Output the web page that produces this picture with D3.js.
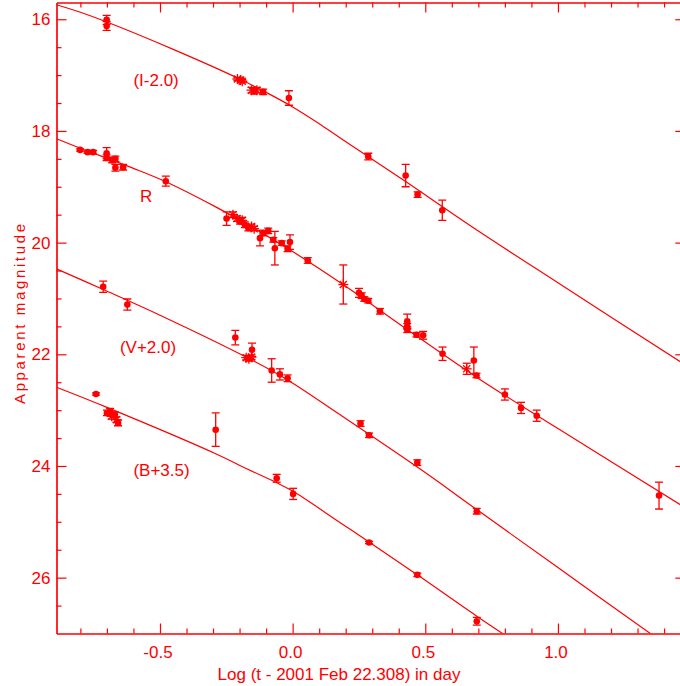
<!DOCTYPE html>
<html><head><meta charset="utf-8">
<script src="https://cdn.jsdelivr.net/npm/d3@7"></script>
<style>
html,body{margin:0;padding:0;background:#fff;}
svg{display:block;}
text{font-family:"Liberation Sans",Arial,sans-serif;fill:#ff0000;}
</style></head>
<body>
<svg id="chart" width="680" height="686"></svg>
<script>
// ---- Data ----
// [log t, magnitude, error, symbol]  symbol: "o" dot, "*" asterisk
const iData = [
  [-0.701,16.01,0.08,"o"],[-0.701,16.12,0.08,"o"],
  [-0.208,17.07,0.03,"*"],[-0.196,17.09,0.03,"*"],[-0.19,17.11,0.03,"*"],
  [-0.155,17.27,0.05,"*"],[-0.145,17.29,0.05,"o"],[-0.135,17.27,0.05,"*"],[-0.111,17.30,0.05,"o"],
  [-0.014,17.41,0.13,"o"],
  [0.285,18.46,0.06,"o"],[0.426,18.80,0.2,"o"],[0.471,19.14,0.05,"o"],[0.564,19.42,0.18,"o"]
];
const rData = [
  [-0.801,18.34,0.02,"o"],[-0.773,18.38,0.02,"o"],[-0.752,18.38,0.03,"o"],
  [-0.701,18.40,0.1,"o"],[-0.701,18.48,0.05,"o"],
  [-0.68,18.52,0.05,"o"],[-0.668,18.50,0.05,"o"],[-0.668,18.66,0.06,"o"],[-0.639,18.65,0.05,"o"],
  [-0.478,18.90,0.09,"o"],
  [-0.249,19.57,0.12,"o"],[-0.225,19.50,0.05,"*"],[-0.21,19.57,0.05,"*"],[-0.198,19.62,0.05,"o"],
  [-0.19,19.60,0.05,"*"],[-0.18,19.68,0.05,"o"],[-0.167,19.74,0.05,"o"],[-0.155,19.71,0.04,"*"],
  [-0.145,19.75,0.04,"*"],[-0.123,19.92,0.14,"o"],[-0.11,19.83,0.05,"o"],[-0.092,19.79,0.05,"o"],
  [-0.073,19.95,0.04,"o"],[-0.067,20.10,0.3,"o"],[-0.041,20.01,0.04,"o"],[-0.019,20.11,0.05,"o"],
  [-0.01,19.99,0.13,"o"],[0.057,20.32,0.05,"o"],
  [0.191,20.75,0.35,"*"],[0.25,20.90,0.08,"o"],[0.26,20.95,0.05,"o"],[0.27,21.01,0.04,"o"],[0.285,21.04,0.04,"o"],
  [0.329,21.23,0.05,"o"],[0.432,21.41,0.13,"o"],[0.432,21.50,0.05,"o"],[0.432,21.56,0.05,"o"],
  [0.467,21.65,0.04,"o"],[0.492,21.66,0.07,"o"],
  [0.565,21.99,0.12,"o"],[0.656,22.26,0.1,"*"],[0.683,22.11,0.24,"o"],[0.693,22.38,0.04,"o"],
  [0.80,22.72,0.1,"o"],[0.861,22.96,0.1,"o"],[0.92,23.10,0.1,"o"],[1.381,24.53,0.24,"o"]
];
const vData = [
  [-0.714,20.79,0.1,"o"],[-0.623,21.11,0.1,"o"],[-0.216,21.70,0.13,"o"],[-0.153,21.92,0.12,"o"],
  [-0.175,22.06,0.04,"*"],[-0.165,22.08,0.04,"*"],[-0.155,22.05,0.04,"*"],
  [-0.079,22.29,0.21,"o"],[-0.048,22.36,0.1,"o"],[-0.019,22.43,0.06,"o"],
  [0.256,23.24,0.05,"o"],[0.288,23.45,0.04,"o"],[0.47,23.94,0.05,"o"],[0.694,24.81,0.05,"o"]
];
const bData = [
  [-0.741,22.71,0.02,"o"],[-0.70,23.05,0.05,"o"],[-0.688,23.02,0.05,"o"],[-0.682,23.11,0.05,"*"],
  [-0.67,23.08,0.05,"o"],[-0.664,23.17,0.05,"*"],[-0.658,23.23,0.05,"o"],
  [-0.29,23.35,0.3,"o"],[-0.06,24.22,0.07,"o"],[0.002,24.50,0.1,"o"],
  [0.288,25.37,0.02,"o"],[0.47,25.95,0.03,"o"],[0.694,26.78,0.07,"o"]
];
// model curves: [log t, magnitude]
const iCurve = [[-0.89,15.74],[-0.8,15.875],[-0.70,16.05],[-0.45,16.54],[-0.20,17.07],[-0.1,17.31],[0.0,17.57],[0.1,17.87],[0.178,18.12],[0.43,18.92],[0.68,19.73],[1.0,20.72],[1.48,22.19]];
const rCurve = [[-0.89,18.14],[-0.8,18.31],[-0.6,18.67],[-0.478,18.91],[-0.29,19.36],[-0.15,19.73],[0.0,20.16],[0.19,20.75],[0.43,21.55],[0.706,22.45],[1.0,23.33],[1.48,24.75]];
const vCurve = [[-0.89,20.47],[-0.714,20.84],[-0.5,21.30],[-0.167,22.07],[-0.019,22.46],[0.178,23.08],[0.47,24.02],[0.694,24.78],[1.0,25.82],[1.36,27.04]];
const bCurve = [[-0.89,22.59],[-0.7,22.95],[-0.29,23.78],[-0.173,24.05],[-0.06,24.30],[0.0,24.45],[0.178,25.01],[0.288,25.36],[0.47,25.95],[0.694,26.69],[0.82,27.09]];

const bandLabels = ["(I-2.0)","R","(V+2.0)","(B+3.5)"];
const bandLabelPos = [[-0.600,17.195],[-0.575,19.27],[-0.651,21.977],[-0.600,24.18]];

const xMajor = [-0.5,0,0.5,1.0];
const xMajorLabels = ["-0.5","0.0","0.5","1.0"];
const xMinor = [-0.8,-0.7,-0.6,-0.4,-0.3,-0.2,-0.1,0.1,0.2,0.3,0.4,0.6,0.7,0.8,0.9,1.1,1.2,1.3,1.4];
const yMajor = [16,18,20,22,24,26];
const yMajorLabels = ["16","18","20","22","24","26"];
const yMinor = [16.5,17,17.5,18.5,19,19.5,20.5,21,21.5,22.5,23,23.5,24.5,25,25.5,26.5];

const xTitle = "Log (t - 2001 Feb 22.308) in day";
const yTitle = "Apparent magnitude";

// ---- Drawing ----
const RED = "#ff0000";
const svg = d3.select("#chart");
const x = d3.scaleLinear().domain([-0.89,1.48]).range([56.5,685.3]);
const y = d3.scaleLinear().domain([15.7,27]).range([2.5,633.5]);
const [x0,x1] = x.range(), [y0,y1] = y.range();

svg.append("clipPath").attr("id","clip").append("rect")
  .attr("x",x0).attr("y",y0).attr("width",x1-x0).attr("height",y1-y0);

function styleAxis(g){
  g.attr("color",RED);
  g.selectAll("path,line").attr("stroke-width",1.2);
  g.selectAll("text").attr("font-size",17).attr("font-family","'Liberation Sans',Arial,sans-serif").attr("fill",RED);
}
// bottom
svg.append("g").attr("transform",`translate(0,${y1})`)
  .call(d3.axisBottom(x).tickValues(xMajor).tickFormat((d,i)=>xMajorLabels[i]).tickSizeInner(-10).tickSizeOuter(0).tickPadding(12))
  .call(styleAxis).call(g=>g.selectAll("text").attr("dx",-2.5));
svg.append("g").attr("transform",`translate(0,${y1})`)
  .call(d3.axisBottom(x).tickValues(xMinor).tickFormat("").tickSizeInner(-5).tickSizeOuter(0))
  .call(styleAxis);
// top
svg.append("g").attr("transform",`translate(0,${y0})`)
  .call(d3.axisTop(x).tickValues(xMajor).tickFormat("").tickSizeInner(-10).tickSizeOuter(0))
  .call(styleAxis);
svg.append("g").attr("transform",`translate(0,${y0})`)
  .call(d3.axisTop(x).tickValues(xMinor).tickFormat("").tickSizeInner(-5).tickSizeOuter(0))
  .call(styleAxis);
// left
svg.append("g").attr("transform",`translate(${x0},0)`)
  .call(d3.axisLeft(y).tickValues(yMajor).tickFormat((d,i)=>yMajorLabels[i]).tickSizeInner(-10).tickSizeOuter(0).tickPadding(6))
  .call(styleAxis);
svg.append("g").attr("transform",`translate(${x0},0)`)
  .call(d3.axisLeft(y).tickValues(yMinor).tickFormat("").tickSizeInner(-5).tickSizeOuter(0))
  .call(styleAxis);
// right
svg.append("g").attr("transform",`translate(${x1},0)`)
  .call(d3.axisRight(y).tickValues(yMajor).tickFormat("").tickSizeInner(-10).tickSizeOuter(0))
  .call(styleAxis);
svg.append("g").attr("transform",`translate(${x1},0)`)
  .call(d3.axisRight(y).tickValues(yMinor).tickFormat("").tickSizeInner(-5).tickSizeOuter(0))
  .call(styleAxis);

// titles
svg.append("text").attr("x",339).attr("y",680).attr("text-anchor","middle")
  .attr("font-size",17).text(xTitle);
svg.append("text").attr("transform","translate(25,404) rotate(-90)")
  .attr("text-anchor","start").attr("font-size",15)
  .attr("font-family","'Liberation Serif','Times New Roman',serif")
  .attr("textLength",180).attr("lengthAdjust","spacing").text(yTitle);

const plot = svg.append("g").attr("clip-path","url(#clip)");

// curves
const line = d3.line().x(d=>x(d[0])).y(d=>y(d[1])).curve(d3.curveCatmullRom.alpha(0.5));
[iCurve,rCurve,vCurve,bCurve].forEach(c=>{
  plot.append("path").attr("d",line(c)).attr("fill","none").attr("stroke",RED).attr("stroke-width",1.2);
});

// points
function drawPoints(data){
  const g = plot.append("g");
  data.forEach(d=>{
    const cx = x(d[0]), cy = y(d[1]), ylo = y(d[1]-d[2]), yhi = y(d[1]+d[2]);
    g.append("line").attr("x1",cx).attr("x2",cx).attr("y1",ylo).attr("y2",yhi).attr("stroke",RED).attr("stroke-width",1.3);
    g.append("line").attr("x1",cx-4).attr("x2",cx+4).attr("y1",ylo).attr("y2",ylo).attr("stroke",RED).attr("stroke-width",1.3);
    g.append("line").attr("x1",cx-4).attr("x2",cx+4).attr("y1",yhi).attr("y2",yhi).attr("stroke",RED).attr("stroke-width",1.3);
    if(d[3]==="*"){
      const r = 5;
      [0,45,90,135].forEach(a=>{
        const t = a*Math.PI/180;
        g.append("line").attr("x1",cx-r*Math.cos(t)).attr("y1",cy-r*Math.sin(t))
          .attr("x2",cx+r*Math.cos(t)).attr("y2",cy+r*Math.sin(t))
          .attr("stroke",RED).attr("stroke-width",1.3);
      });
    } else {
      g.append("circle").attr("cx",cx).attr("cy",cy).attr("r",3.3).attr("fill",RED);
    }
  });
}
[iData,rData,vData,bData].forEach(drawPoints);

// band labels
bandLabels.forEach((t,i)=>{
  svg.append("text").attr("x",x(bandLabelPos[i][0])).attr("y",y(bandLabelPos[i][1]))
    .attr("font-size",17).text(t);
});
</script>
</body></html>
